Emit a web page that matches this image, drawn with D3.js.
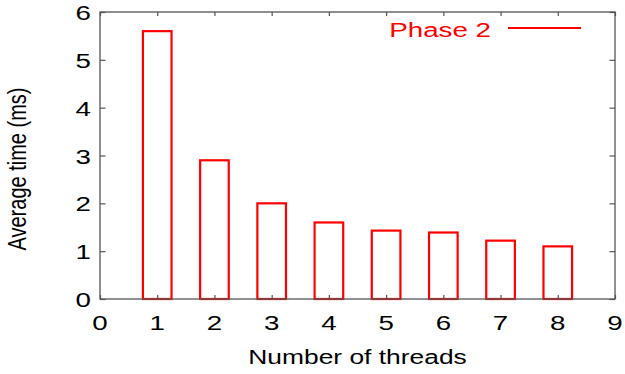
<!DOCTYPE html>
<html>
<head>
<meta charset="utf-8">
<script src="https://cdn.jsdelivr.net/npm/d3@7"></script>
<style>
  body { margin: 0; background: #fff; }
  text { font-family: "Liberation Sans", Arial, sans-serif; }
</style>
</head>
<body>
<svg width="625" height="374"></svg>
<script>
// average time per phase-2 run, by thread count
var threads = [1, 2, 3, 4, 5, 6, 7, 8];
var avgTime = [5.6, 2.9, 2.0, 1.6, 1.43, 1.39, 1.22, 1.1];
var xTicks = [0, 1, 2, 3, 4, 5, 6, 7, 8, 9];
var yTicks = [0, 1, 2, 3, 4, 5, 6];

var svg = d3.select("svg"),
    margin = {top: 12, right: 10, bottom: 75, left: 100},
    width = +svg.attr("width") - margin.left - margin.right,
    height = +svg.attr("height") - margin.top - margin.bottom;

var stretch = 1.32,   // glyphs are drawn wide
    fontSize = 20,
    axisColor = "#555";

var x = d3.scaleLinear().domain([0, 9]).range([0, width]);
var y = d3.scaleLinear().domain([0, 6]).range([height, 0]);

var g = svg.append("g")
    .attr("transform", "translate(" + margin.left + "," + margin.top + ")");

// bars
g.selectAll(".bar")
  .data(threads)
  .enter().append("rect")
    .attr("class", "bar")
    .attr("x", function(d) { return x(d - 0.25); })
    .attr("width", function(d) { return x(d + 0.25) - x(d - 0.25); })
    .attr("y", function(d, i) { return y(avgTime[i]); })
    .attr("height", function(d, i) { return height - y(avgTime[i]); })
    .attr("fill", "none")
    .attr("stroke", "#ff0000")
    .attr("stroke-width", 2.2);

// frame with inward ticks on all sides
function styleAxis(sel) {
  sel.select(".domain").remove();
  sel.selectAll("line").attr("stroke", axisColor).attr("stroke-width", 1.2);
  sel.selectAll("text").remove();
}

g.append("g")
    .attr("transform", "translate(0," + height + ")")
    .call(d3.axisBottom(x).tickValues(xTicks).tickSize(-4))
    .call(styleAxis);
g.append("g")
    .call(d3.axisTop(x).tickValues(xTicks).tickSize(-4))
    .call(styleAxis);
g.append("g")
    .call(d3.axisLeft(y).tickValues(yTicks).tickSize(-5.5))
    .call(styleAxis);
g.append("g")
    .attr("transform", "translate(" + width + ",0)")
    .call(d3.axisRight(y).tickValues(yTicks).tickSize(-5.5))
    .call(styleAxis);

g.append("rect")
    .attr("width", width)
    .attr("height", height)
    .attr("fill", "none")
    .attr("stroke", axisColor)
    .attr("stroke-width", 1.3);

// tick labels
g.selectAll(".xlab")
  .data(xTicks)
  .enter().append("text")
    .attr("class", "xlab")
    .attr("transform", function(d) { return "translate(" + x(d) + "," + (height + 31) + ") scale(" + stretch + ",1)"; })
    .attr("text-anchor", "middle")
    .attr("font-size", fontSize + 1)
    .text(function(d) { return d; });

g.selectAll(".ylab")
  .data(yTicks)
  .enter().append("text")
    .attr("class", "ylab")
    .attr("transform", function(d) { return "translate(-9," + (y(d) + 8) + ") scale(" + stretch + ",1)"; })
    .attr("text-anchor", "end")
    .attr("font-size", fontSize + 1)
    .text(function(d) { return d; });

// axis titles
svg.append("text")
    .attr("transform", "translate(" + (margin.left + width / 2) + ",364) scale(" + stretch + ",1)")
    .attr("text-anchor", "middle")
    .attr("font-size", fontSize)
    .text("Number of threads");

svg.append("text")
    .attr("transform", "translate(26,169) scale(" + stretch + ",1) rotate(-90)")
    .attr("text-anchor", "middle")
    .attr("font-size", fontSize)
    .text("Average time (ms)");

// legend
var legend = svg.append("g");
legend.append("text")
    .attr("transform", "translate(491,37) scale(" + stretch + ",1)")
    .attr("text-anchor", "end")
    .attr("font-size", fontSize + 1)
    .attr("fill", "#ff0000")
    .text("Phase 2");
legend.append("line")
    .attr("x1", 508).attr("x2", 581)
    .attr("y1", 28).attr("y2", 28)
    .attr("stroke", "#ff0000")
    .attr("stroke-width", 2);
</script>
</body>
</html>
